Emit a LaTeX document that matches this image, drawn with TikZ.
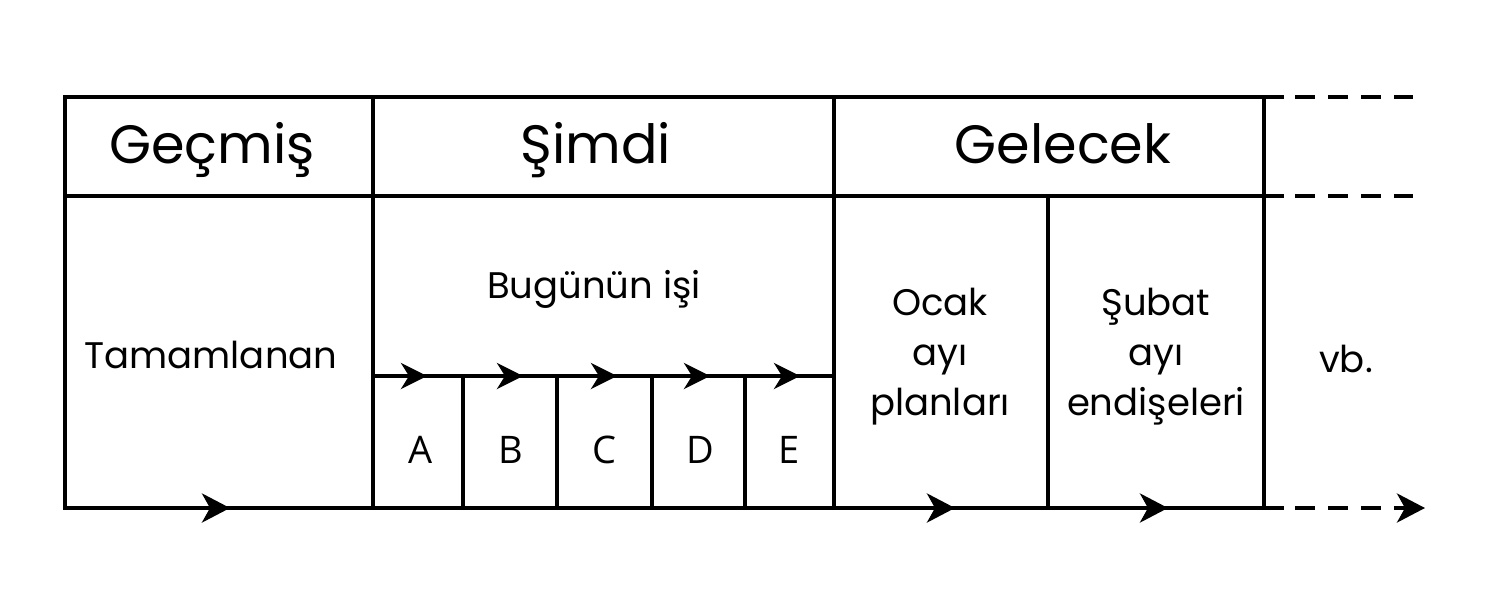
\documentclass[tikz,border=0pt]{standalone}
\usepackage{fontspec}
\setmainfont{Poppins}
\newfontfamily\letterfont{Open Sans}
\usetikzlibrary{arrows.meta}
\begin{document}
\begin{tikzpicture}[x=0.5pt,y=-0.5pt, line width=2pt, line cap=rect,
  bigtip/.style={-{Stealth[length=14pt,width=14.5pt,inset=4pt]}, line cap=butt},
  smalltip/.style={-{Stealth[length=13pt,width=13pt,inset=4pt]}, line cap=butt},
  hdr/.style={anchor=base,inner sep=0pt,font=\fontsize{27}{30}\selectfont},
  body/.style={inner sep=0pt,font=\fontsize{18.5}{25}\selectfont, align=center},
  letter/.style={anchor=base,inner sep=0pt,font=\letterfont\fontsize{19}{22}\selectfont},
  dashline/.style={line cap=butt,dash pattern=on 10pt off 6.5pt, dash phase=10pt}]
\useasboundingbox (0,0) rectangle (1490,606);
% grid coordinates
\coordinate (tl) at (65,97);
\coordinate (hl) at (65,196);
\coordinate (bl) at (65,508);
\coordinate (tr) at (1282,97);
\coordinate (hr) at (1282,196);
\coordinate (br) at (1282,508);
% horizontal lines
\draw (tl) -- (tr);
\draw (hl) -- (hr);
\draw (bl) -- (br);
\draw (373,376) -- (834,376);
% vertical lines
\foreach \x in {65,373,834,1264} \draw (\x,97) -- (\x,508);
\draw (1048,196) -- (1048,508);
\foreach \x in {463,557,652,745} \draw (\x,376) -- (\x,508);
% dashed continuations
\draw[dashline] (tr) -- (1413,97);
\draw[dashline] (hr) -- (1413,196);
\draw[dashline] (br) -- (1400,508);
\coordinate (end) at (1425,508);
\draw[bigtip] (1395,508) -- (end);
% arrowheads on bottom line
\foreach \t in {230,955,1168} \draw[bigtip] (\t-20,508) -- (\t,508);
% arrowheads on the sub line
\foreach \t in {427,523,617,710,800} \draw[smalltip] (\t-20,376) -- (\t,376);
% headers
\node[hdr] (past) at (212,163) {Geçmiş};
\node[hdr] (now) at (596,163) {Şimdi};
\node[hdr] (future) at (1063,163) {Gelecek};
% body
\node[body, anchor=base] (done) at (211,368) {Tamamlanan};
\node[body, anchor=base] (today) at (594,298) {Bugünün işi};
\node[body] (jan) at (940,357) {Ocak\\ayı\\planları};
\node[body] (feb) at (1156,357) {Şubat\\ayı\\endişeleri};
\node[body, anchor=base] (etc) at (1346,372) {vb.};
% letters
\node[letter] (A) at (421,463) {A};
\node[letter] (B) at (511,463) {B};
\node[letter] (C) at (604,463) {C};
\node[letter] (D) at (700,463) {D};
\node[letter] (E) at (789,463) {E};
\end{tikzpicture}
\end{document}
